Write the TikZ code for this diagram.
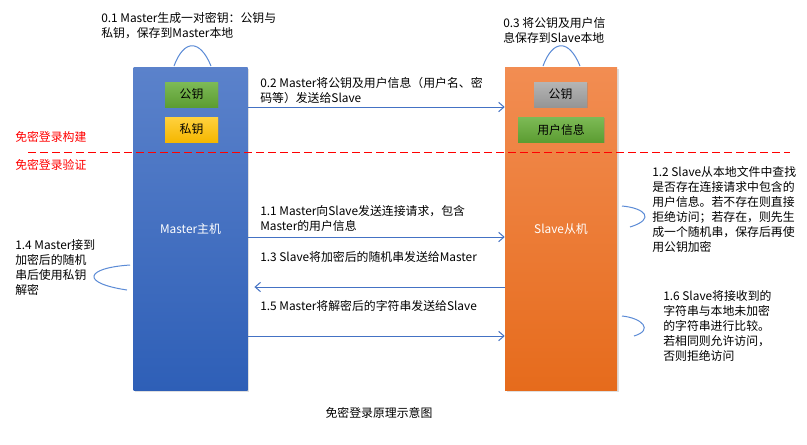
\documentclass[tikz,border=0pt]{standalone}
\usepackage{fontspec}
\setmainfont{Noto Sans CJK SC}
\usetikzlibrary{arrows.meta,shadows}
\definecolor{link}{HTML}{4472C4}
\definecolor{curlink}{HTML}{5B8BD6}
\definecolor{mastertop}{HTML}{5B82CB}
\definecolor{masterbot}{HTML}{2E5FB7}
\definecolor{slavetop}{HTML}{F28D52}
\definecolor{slavebot}{HTML}{E66B1C}
\definecolor{greentop}{HTML}{7DBA56}
\definecolor{greenbot}{HTML}{5C9D32}
\definecolor{yellowtop}{HTML}{FFD13F}
\definecolor{yellowbot}{HTML}{F5B700}
\definecolor{greytop}{HTML}{B5B5B5}
\definecolor{greybot}{HTML}{959595}
\newcommand\notefont{\fontsize{8.9}{11.25}\selectfont}
\tikzset{
  host/.style={rectangle, inner sep=0pt, minimum height=242.25pt, text=white, font=\notefont,
    drop shadow={shadow xshift=1.2pt, shadow yshift=-1.2pt, opacity=0.25}},
  keybox/.style={rectangle, inner sep=0pt, minimum height=18.75pt, minimum width=39.75pt, font=\notefont,
    drop shadow={shadow xshift=1pt, shadow yshift=-1pt, opacity=0.35}},
  note/.style={anchor=west, align=left, inner sep=0pt, font=\notefont},
  phase/.style={note, text=red},
  arrow/.style={-{Straight Barb[length=4pt,width=7pt]}, draw=link, line width=0.75pt},
  curl/.style={draw=curlink, line width=0.75pt}
}

\begin{document}
\begin{tikzpicture}[x=0.75pt, y=-0.75pt]
  \useasboundingbox[fill=white] (0,0) rectangle (807,444);

  % hosts
  \node[host, minimum width=85.5pt, top color=mastertop, bottom color=masterbot] (master) at (190.5,228.5) {Master主机};
  \node[host, minimum width=84pt, top color=slavetop, bottom color=slavebot] (slave) at (561,229) {Slave从机};

  % stored keys
  \node[keybox, top color=greentop, bottom color=greenbot] (mpub) at (191.5,94.5) {公钥};
  \node[keybox, top color=yellowtop, bottom color=yellowbot] (mpriv) at (191.5,129.5) {私钥};
  \node[keybox, top color=greytop, bottom color=greybot] (spub) at (560.5,94.5) {公钥};
  \node[keybox, minimum width=64.5pt, top color=greentop, bottom color=greenbot] (sinfo) at (561,129.5) {用户信息};

  % phases
  \draw[red, line width=0.75pt, dash pattern=on 6pt off 3pt] (28,152) -- (790,152);
  \node[phase] (build) at (15,137) {免密登录构建};
  \node[phase] (check) at (15,165) {免密登录验证};

  % notes
  \node[note] (n01) at (101,25.5) {0.1 Master生成一对密钥：公钥与\\私钥，保存到Master本地};
  \node[note] (n03) at (503,30) {0.3 将公钥及用户信\\息保存到Slave本地};
  \node[note] (n02) at (260,90) {0.2 Master将公钥及用户信息（用户名、密\\码等）发送给Slave};
  \node[note] (n11) at (260,218) {1.1 Master向Slave发送连接请求，包含\\Master的用户信息};
  \node[note] (n13) at (260,257) {1.3 Slave将加密后的随机串发送给Master};
  \node[note] (n15) at (260,306) {1.5 Master将解密后的字符串发送给Slave};
  \node[note] (n12) at (652,209) {1.2 Slave从本地文件中查找\\是否存在连接请求中包含的\\用户信息。若不存在则直接\\拒绝访问；若存在，则先生\\成一个随机串，保存后再使\\用公钥加密};
  \node[note] (n14) at (15,268) {1.4 Master接到\\加密后的随机\\串后使用私钥\\解密};
  \node[note] (n16) at (663,326) {1.6 Slave将接收到的\\字符串与本地未加密\\的字符串进行比较。\\若相同则允许访问，\\否则拒绝访问};
  \node[font=\notefont, inner sep=0pt] (caption) at (379,413) {免密登录原理示意图};

  % messages
  \draw[arrow] (master.east |- 0,107) -- (slave.west |- 0,107);
  \draw[arrow] (master.east |- 0,237) -- (slave.west |- 0,237);
  \draw[arrow, shorten >=5pt] (slave.west |- 0,287) -- (master.east |- 0,287);
  \draw[arrow] (master.east |- 0,336) -- (slave.west |- 0,336);

  % local steps
  \draw[curl] (174,66) .. controls (184,39) and (200,39) .. (211,66);
  \draw[curl] (543,66) .. controls (553,39) and (569,39) .. (580,66);
  \draw[curl] (622,206) .. controls (645,208) and (656,219) .. (630,227);
  \draw[curl] (130,265) .. controls (85,268) and (80,283) .. (127,290);
  \draw[curl] (622,316) .. controls (642,318) and (654,330) .. (634,336);
\end{tikzpicture}
\end{document}
